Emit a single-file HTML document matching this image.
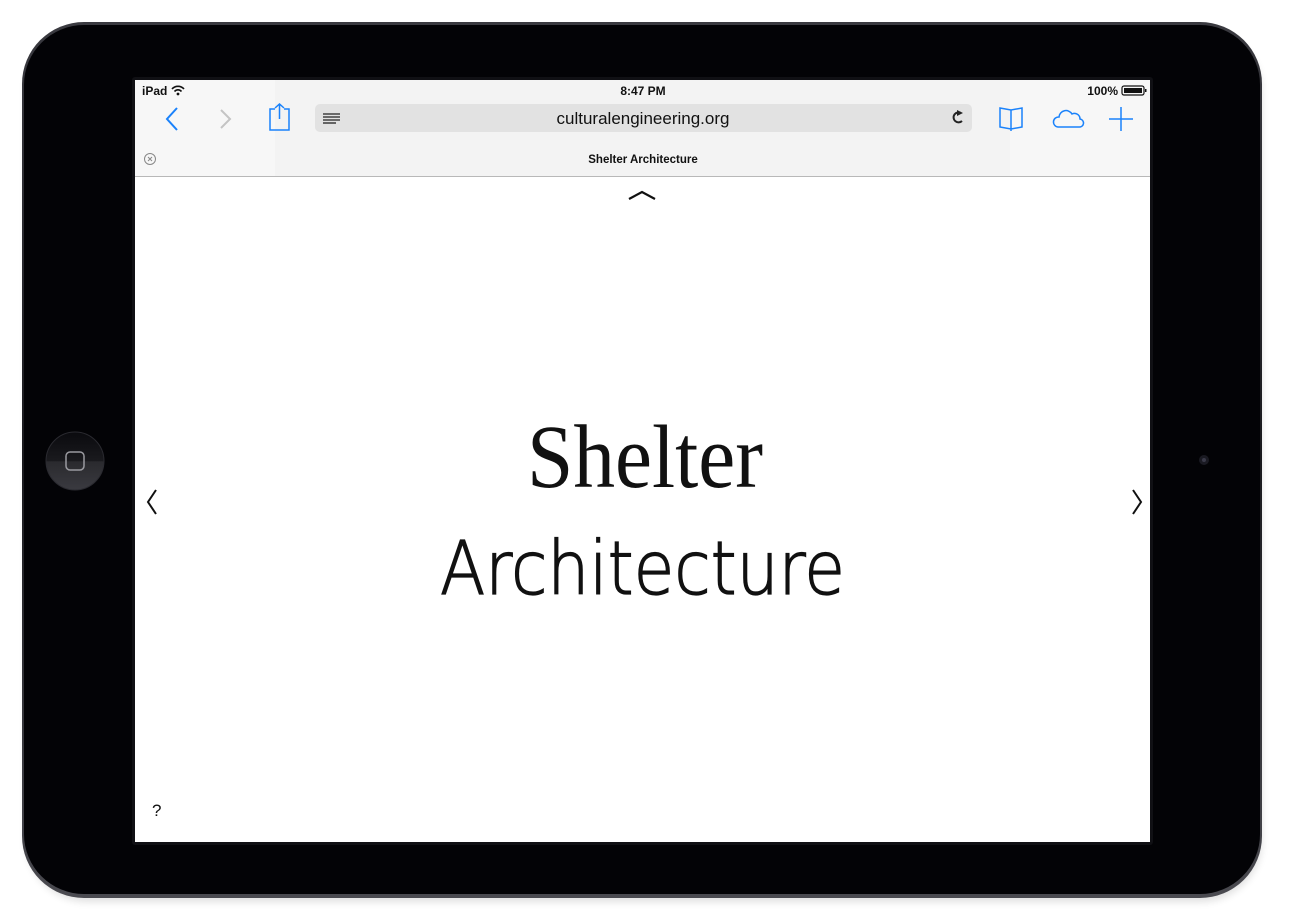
<!DOCTYPE html>
<html><head><meta charset="utf-8"><style>
html,body{margin:0;padding:0;background:#fff;width:1290px;height:920px;overflow:hidden}
</style></head><body>
<svg width="1290" height="920" viewBox="0 0 1290 920" xmlns="http://www.w3.org/2000/svg" font-family="Liberation Sans, sans-serif">
<defs>
<linearGradient id="edge" x1="0" y1="0" x2="0" y2="1">
<stop offset="0" stop-color="#3a3a40"/><stop offset="0.5" stop-color="#1a1a1e"/><stop offset="1" stop-color="#4a4a50"/>
</linearGradient>
<linearGradient id="hb" x1="0" y1="0" x2="0" y2="1">
<stop offset="0" stop-color="#0a0a0e"/><stop offset="0.5" stop-color="#1a1a1e"/><stop offset="0.51" stop-color="#2a2a2e"/><stop offset="1" stop-color="#3a3a40"/>
</linearGradient>
<filter id="sh" x="-5%" y="-5%" width="110%" height="115%"><feGaussianBlur stdDeviation="4"/></filter>
</defs>
<rect x="26" y="30" width="1236" height="872" rx="62" fill="#000" opacity="0.12" filter="url(#sh)"/>
<rect x="22" y="22" width="1240" height="876" rx="62" fill="url(#edge)"/>
<rect x="24" y="25" width="1236" height="869" rx="60" fill="#030306"/>
<rect x="132" y="77" width="1021" height="768" rx="3" fill="#101014"/>
<rect x="135" y="80" width="1015" height="762" fill="#fff"/>
<!-- toolbar -->
<rect x="135" y="80" width="1015" height="96" fill="#f7f7f7"/>
<rect x="275" y="80" width="735" height="96" fill="#f0f0f0" opacity="0.6"/>
<rect x="135" y="176" width="1015" height="1" fill="#b8b8b8"/>
<text x="142" y="95" font-size="12" font-weight="bold" fill="#111">iPad</text>
<path d="M172 89 a8 8 0 0 1 12 0 M174.5 91.5 a4.5 4.5 0 0 1 7 0" stroke="#111" stroke-width="1.6" fill="none"/>
<circle cx="178" cy="94" r="1.4" fill="#111"/>
<text x="643" y="95" font-size="12" font-weight="bold" fill="#111" text-anchor="middle">8:47 PM</text>
<text x="1118" y="95" font-size="12" font-weight="bold" fill="#111" text-anchor="end">100%</text>
<rect x="1122" y="86" width="22" height="9" rx="2" fill="none" stroke="#111" stroke-width="1.2"/>
<rect x="1124" y="88" width="18" height="5" fill="#111"/>
<rect x="1145" y="89" width="1.5" height="3" fill="#111"/>
<!-- nav icons -->
<path d="M177 108 L167 119 L177 130" stroke="#1a82fb" stroke-width="2" fill="none"/>
<path d="M221 110 L230 119 L221 128" stroke="#c4c4c4" stroke-width="2" fill="none"/>
<path d="M275 109 L270 109 L270 130 L289 130 L289 109 L284 109 M279.5 119 L279.5 104 M275 108 L279.5 104 L284 108" stroke="#1a82fb" stroke-width="1.5" fill="none"/>
<rect x="315" y="104" width="657" height="28" rx="5" fill="#e2e2e2"/>
<g stroke="#222" stroke-width="1.3"><line x1="323" y1="114" x2="340" y2="114"/><line x1="323" y1="117" x2="340" y2="117"/><line x1="323" y1="120" x2="340" y2="120"/><line x1="323" y1="123" x2="336" y2="123"/></g>
<text x="643" y="124" font-size="17" fill="#111" text-anchor="middle">culturalengineering.org</text>
<path d="M961 113 A5 5 0 1 0 962 121" stroke="#222" stroke-width="2" fill="none"/>
<path d="M957 110 L963 113 L957 116 Z" fill="#222"/>
<path d="M1000 108 L1011 110 L1022 108 L1022 127 L1011 129 L1000 127 Z M1011 110 L1011 131" stroke="#1a82fb" stroke-width="1.5" fill="none"/>
<path d="M1058 127 a5 5 0 0 1 1 -10 a7 7 0 0 1 13 -3 a5.5 5.5 0 0 1 8 5 a4 4 0 0 1 -1 8 Z" stroke="#1a82fb" stroke-width="1.5" fill="none"/>
<path d="M1121 107 L1121 131 M1109 119 L1133 119" stroke="#1a82fb" stroke-width="1.5"/>
<circle cx="150" cy="159" r="5.5" fill="none" stroke="#888" stroke-width="1"/>
<path d="M148 157 L152 161 M152 157 L148 161" stroke="#888" stroke-width="1"/>
<text x="643" y="163" font-size="11.5" font-weight="bold" fill="#111" text-anchor="middle">Shelter Architecture</text>
<!-- content -->
<path d="M629 199 L642 192 L655 199" stroke="#111" stroke-width="2.2" fill="none"/>
<path d="M156 490 L148 502 L156 514" stroke="#111" stroke-width="2" fill="none"/>
<path d="M1133 490 L1141 502 L1133 514" stroke="#111" stroke-width="2" fill="none"/>
<text x="527" y="487" font-size="90" font-family="Liberation Serif, serif" fill="#111" textLength="236" lengthAdjust="spacingAndGlyphs">Shelter</text>
<text x="440" y="594" font-size="74" font-family="DejaVu Sans, Liberation Sans, sans-serif" font-weight="200" fill="#111" stroke="#111" stroke-width="1.3" textLength="405" lengthAdjust="spacingAndGlyphs">Architecture</text>
<text x="152" y="816" font-size="17" fill="#111">?</text>
<!-- home button / camera -->
<circle cx="75" cy="461" r="29" fill="url(#hb)" stroke="#2a2a30" stroke-width="1"/>
<rect x="66" y="452" width="18" height="18" rx="4" fill="none" stroke="#9a9aa0" stroke-width="1.5"/>
<circle cx="1204" cy="460" r="5" fill="#1a1a22"/>
<circle cx="1204" cy="460" r="2" fill="#3a3a48"/>
</svg>
</body></html>
